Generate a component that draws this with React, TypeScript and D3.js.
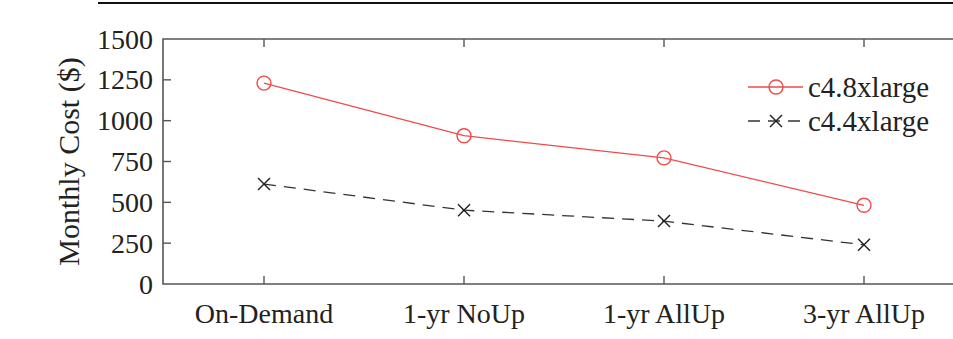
import React from "react";
import * as d3 from "d3";

const categories = ["On-Demand", "1-yr NoUp", "1-yr AllUp", "3-yr AllUp"];
const c48xlarge = [1230, 908, 772, 482];
const c44xlarge = [612, 452, 385, 240];
const yTicks = [0, 250, 500, 750, 1000, 1250, 1500];

const W = 953;
const H = 339;
const left = 163;
const right = 965;
const top = 39;
const bottom = 284;
const axisColor = "#555";
const red = "#f04a4a";
const font = "'Liberation Serif', 'Times New Roman', serif";
const txt = { fontFamily: font, fill: "#222" };

const App = () => {
  const x = d3.scalePoint<string>().domain(categories).range([264, 864]);
  const y = d3.scaleLinear().domain([0, 1500]).range([bottom, top]);

  const line = d3
    .line<number>()
    .x((_, i) => x(categories[i]) as number)
    .y((d) => y(d));

  const cross = (cx: number, cy: number, s: number, key: string) => (
    <g key={key} stroke="#222" strokeWidth={1.4}>
      <line x1={cx - s} y1={cy - s} x2={cx + s} y2={cy + s} />
      <line x1={cx - s} y1={cy + s} x2={cx + s} y2={cy - s} />
    </g>
  );

  return (
    <svg
      width={W}
      height={H}
      style={{ position: "absolute", left: 0, top: 0, background: "#fff" }}
    >
      {/* page rule above the figure */}
      <line x1={98} x2={W} y1={3} y2={3} stroke="#111" strokeWidth={2} />

      {/* frame */}
      <path
        d={`M${right},${top}H${left}V${bottom}H${right}`}
        fill="none"
        stroke={axisColor}
        strokeWidth={1.6}
      />

      {/* y ticks */}
      {yTicks.map((t) => (
        <g key={t}>
          {t > 0 && t < 1500 && (
            <line x1={left} x2={left + 8} y1={y(t)} y2={y(t)} stroke={axisColor} strokeWidth={1.4} />
          )}
          <text x={153} y={y(t)} dy="0.34em" textAnchor="end" fontSize={28} style={txt}>
            {t}
          </text>
        </g>
      ))}

      {/* x ticks */}
      {categories.map((c) => (
        <g key={c}>
          <line x1={x(c)} x2={x(c)} y1={bottom} y2={bottom - 8} stroke={axisColor} strokeWidth={1.4} />
          <line x1={x(c)} x2={x(c)} y1={top} y2={top + 8} stroke={axisColor} strokeWidth={1.4} />
          <text x={x(c)} y={323} textAnchor="middle" fontSize={28} style={txt}>
            {c}
          </text>
        </g>
      ))}

      <text
        transform={`translate(79,${(top + bottom) / 2}) rotate(-90)`}
        textAnchor="middle"
        fontSize={30}
        style={txt}
      >
        Monthly Cost ($)
      </text>

      {/* series */}
      <path d={line(c44xlarge) ?? ""} fill="none" stroke="#333" strokeWidth={1.3} strokeDasharray="12,8" />
      {c44xlarge.map((v, i) => cross(x(categories[i]) as number, y(v), 6, `x${i}`))}

      <path d={line(c48xlarge) ?? ""} fill="none" stroke={red} strokeWidth={1.3} />
      {c48xlarge.map((v, i) => (
        <circle key={i} cx={x(categories[i])} cy={y(v)} r={7} fill="none" stroke={red} strokeWidth={1.4} />
      ))}

      {/* legend */}
      <line x1={748} x2={803} y1={87} y2={87} stroke={red} strokeWidth={1.3} />
      <circle cx={776} cy={87} r={7} fill="none" stroke={red} strokeWidth={1.4} />
      <text x={808} y={87} dy="0.34em" fontSize={29} style={txt}>
        c4.8xlarge
      </text>
      <line x1={748} x2={803} y1={121} y2={121} stroke="#333" strokeWidth={1.3} strokeDasharray="12,8" />
      {cross(776, 121, 6, "lg")}
      <text x={808} y={121} dy="0.34em" fontSize={29} style={txt}>
        c4.4xlarge
      </text>
    </svg>
  );
};

export default App;
